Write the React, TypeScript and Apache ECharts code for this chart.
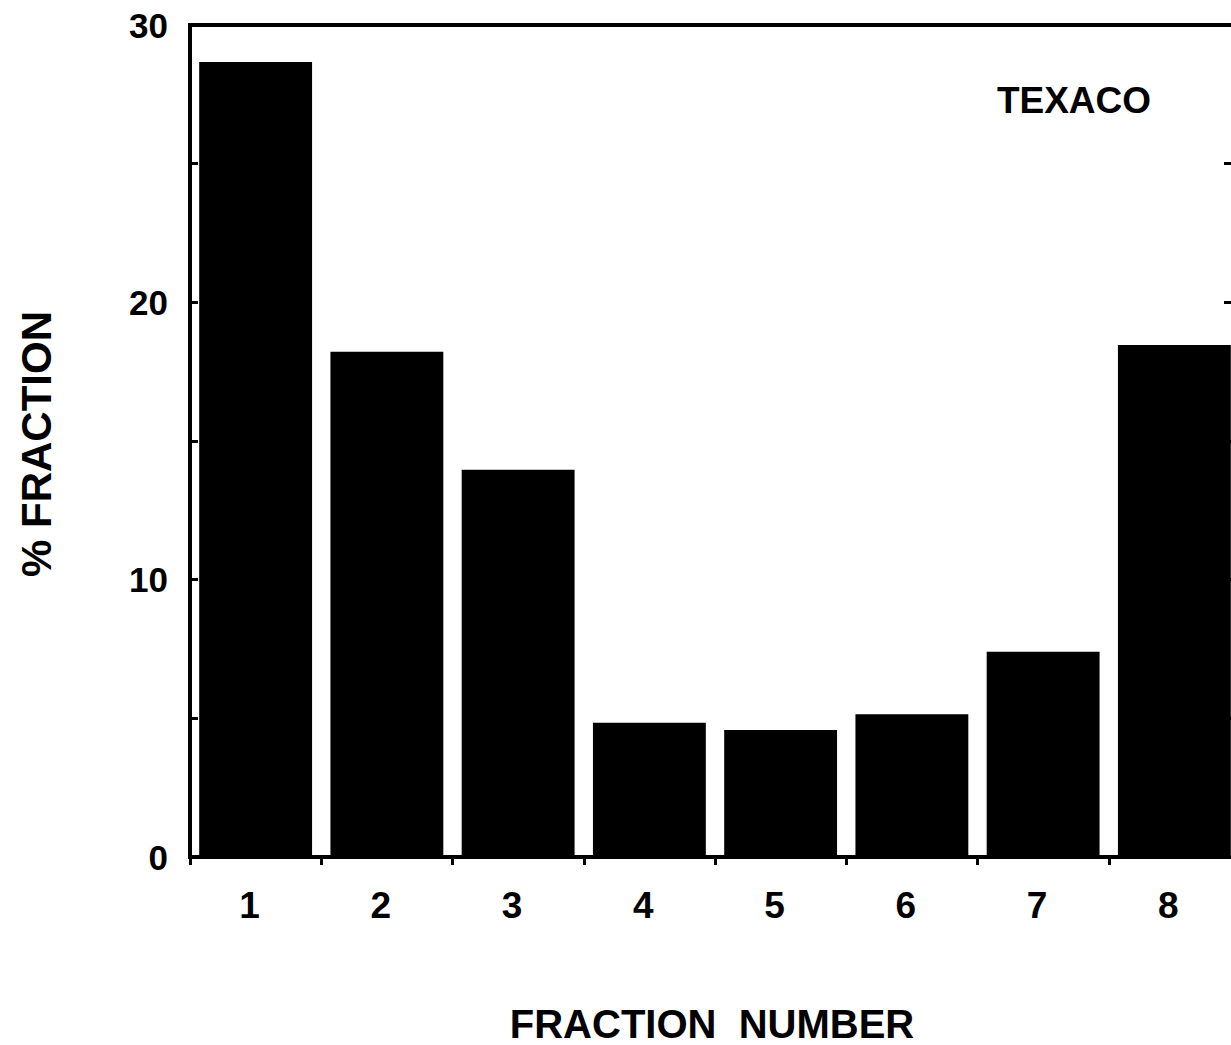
import React, { useEffect, useRef } from "react";
import * as echarts from "echarts";

const categories = ["1", "2", "3", "4", "5", "6", "7", "8"];
const fractionPercent = [28.67, 18.22, 13.96, 4.84, 4.58, 5.15, 7.4, 18.46];
const yTicks = [0, 10, 20, 30];
const sampleName = "TEXACO";
const xTitle = "FRACTION  NUMBER";
const yTitle = "% FRACTION";

const FONT = "'Liberation Sans', Arial, Helvetica, sans-serif";

export default function App() {
  const ref = useRef<HTMLDivElement>(null);
  useEffect(() => {
    if (!ref.current) return;
    const chart = echarts.init(ref.current, null, { renderer: "svg" });
    const lineStyle = { color: "#000", width: 4 };
    chart.setOption({
      animation: false,
      backgroundColor: "#fff",
      grid: {
        left: 190,
        top: 25,
        right: 10,
        bottom: 188,
        containLabel: false,
        show: true,
        borderColor: "#000",
        borderWidth: 4,
      },
      xAxis: [
        {
          type: "category",
          data: categories,
          boundaryGap: true,
          axisLine: { show: true, lineStyle },
          axisTick: { show: true, inside: false, length: 8, lineStyle: { color: "#000", width: 3 } },
          axisLabel: {
            color: "#000",
            fontFamily: FONT,
            fontWeight: "bold",
            fontSize: 37,
            margin: 30,
            padding: [0, 12, 0, 0],
          },
          splitLine: { show: false },
        },
      ],
      yAxis: [
        {
          type: "value",
          min: 0,
          max: 30,
          interval: 5,
          axisLine: { show: true, lineStyle },
          axisTick: { show: true, inside: true, length: 8, lineStyle: { color: "#000", width: 3 } },
          axisLabel: {
            color: "#000",
            fontFamily: FONT,
            fontWeight: "bold",
            fontSize: 35,
            margin: 22,
            formatter: (v: number) => (yTicks.includes(v) ? String(v) : ""),
          },
          splitLine: { show: false },
        },
        {
          type: "value",
          min: 0,
          max: 30,
          interval: 5,
          position: "right",
          axisLine: { show: true, lineStyle },
          axisTick: { show: true, inside: true, length: 16, lineStyle: { color: "#000", width: 3 } },
          axisLabel: { show: false },
          splitLine: { show: false },
        },
      ],
      series: [
        {
          type: "bar",
          data: fractionPercent,
          barCategoryGap: "14%",
          itemStyle: { color: "#000" },
          xAxisIndex: 0,
          yAxisIndex: 0,
        },
      ],
      graphic: [
        {
          type: "text",
          x: 1074,
          y: 100,
          style: {
            text: sampleName,
            fill: "#000",
            font: `bold 37px ${FONT}`,
            textAlign: "center",
            textVerticalAlign: "middle",
          },
        },
        {
          type: "text",
          x: 712,
          y: 1024,
          style: {
            text: xTitle,
            fill: "#000",
            font: `bold 40px ${FONT}`,
            textAlign: "center",
            textVerticalAlign: "middle",
          },
        },
        {
          type: "text",
          x: 36,
          y: 444,
          rotation: Math.PI / 2,
          style: {
            text: yTitle,
            fill: "#000",
            font: `bold 42px ${FONT}`,
            textAlign: "center",
            textVerticalAlign: "middle",
          },
        },
      ],
    });
    return () => chart.dispose();
  }, []);
  return (
    <div
      style={{
        position: "absolute",
        left: 0,
        top: 0,
        width: 1231,
        height: 1045,
        overflow: "hidden",
        background: "#fff",
      }}
    >
      <div ref={ref} style={{ width: 1250, height: 1045 }} />
    </div>
  );
}
